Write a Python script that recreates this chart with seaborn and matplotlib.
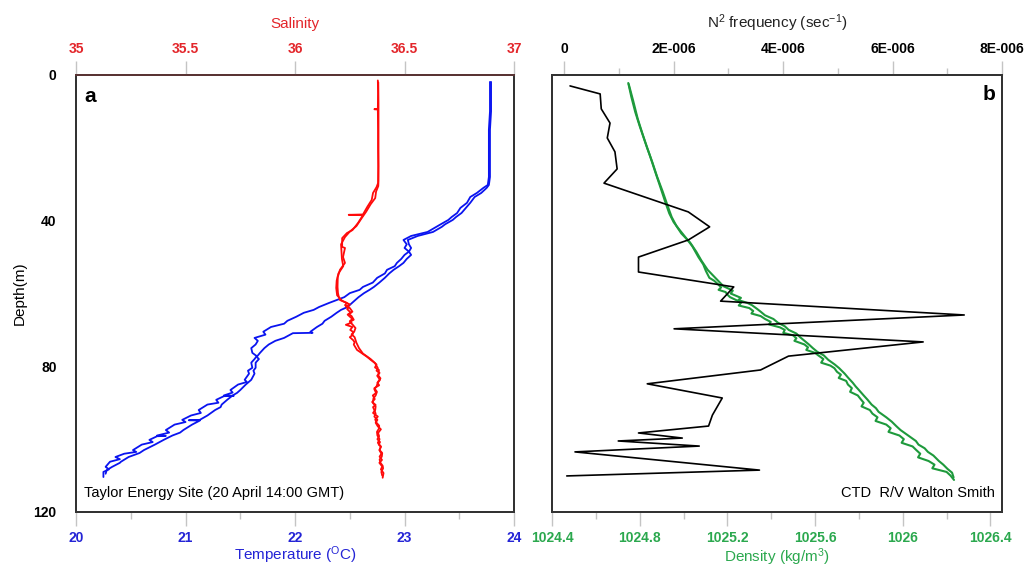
import matplotlib
matplotlib.use("Agg")
import matplotlib.pyplot as plt
import seaborn as sns
from matplotlib.ticker import MultipleLocator, FuncFormatter

# ---------------- data ----------------
# Temperature, cast 1
temp1_depth = [1.9, 5, 10, 15, 20, 25, 28, 30.2, 31.0, 32.4, 33.5, 35.1, 36.5, 37.9, 39.0, 39.8,
               41.0, 41.7, 43.1, 44.2, 45.3, 46.5, 47.5, 48.5, 49.4, 50.5, 51.6, 52.5, 53.5, 54.5,
               55.7, 57.0, 58.2, 59.0, 59.9, 61.0, 61.8, 62.6, 63.7, 64.5, 65.3, 66.4, 67.5, 68.3,
               69.2, 70.5, 71.3, 72.2, 73.0, 74.0, 75.0, 76.3, 77.2, 78.0, 79.0, 80.4, 81.2, 82.0,
               83.7, 84.3, 85.0, 86.5, 87.2, 88.0, 88.1, 88.2, 89.2, 90.0, 90.5, 92.0, 92.8, 93.5,
               94.7, 95.3, 96.0, 97.5, 98.2, 99.0, 99.1, 99.2, 100.2, 100.8, 101.5, 103.0, 103.5,
               104.0, 104.9, 105.5, 106.2, 107.6, 108.3, 109.0, 110.4]
temp1 = [23.78, 23.78, 23.78, 23.77, 23.77, 23.77, 23.77, 23.76, 23.72, 23.66, 23.60, 23.57, 23.51,
         23.48, 23.43, 23.40, 23.33, 23.29, 23.21, 23.06, 22.99, 23.02, 23.00, 23.04, 23.00, 22.97,
         22.93, 22.91, 22.84, 22.82, 22.75, 22.71, 22.62, 22.59, 22.50, 22.45, 22.38, 22.31, 22.22,
         22.17, 22.08, 22.01, 21.93, 21.90, 21.78, 21.71, 21.73, 21.63, 21.66, 21.64, 21.60, 21.61,
         21.65, 21.63, 21.60, 21.61, 21.57, 21.58, 21.54, 21.56, 21.48, 21.41, 21.43, 21.35, 21.44,
         21.35, 21.28, 21.30, 21.20, 21.12, 21.14, 21.05, 20.97, 21.00, 20.90, 20.82, 20.85, 20.74,
         20.82, 20.74, 20.67, 20.70, 20.60, 20.52, 20.55, 20.44, 20.36, 20.40, 20.31, 20.27, 20.30,
         20.25, 20.25]

# Temperature, cast 2
temp2_depth = [1.9, 5, 10, 15, 20, 25, 28, 30.2, 31.0, 32.4, 33.5, 35.1, 36.5, 37.9, 39.0, 39.8,
               41.0, 41.7, 43.1, 44.2, 45.3, 46.5, 47.5, 48.5, 49.4, 50.5, 51.6, 52.5, 53.5, 54.5,
               55.7, 57.0, 58.2, 59.0, 59.9, 61.0, 61.8, 62.6, 63.7, 64.5, 65.3, 66.4, 67.5, 68.3,
               69.2, 70.5, 70.8, 70.9, 72.2, 73.0, 74.0, 75.0, 76.3, 77.4, 78.0, 79.0, 80.4, 81.2,
               82.0, 83.7, 85.0, 86.5, 87.3, 88.0, 89.2, 90.5, 91.2, 92.0, 93.5, 94.7, 94.8, 94.9,
               96.0, 97.5, 98.2, 99.0, 100.2, 101.5, 103.0, 103.8, 104.9, 106.2, 106.5, 107.6,
               108.5, 109.5]
temp2 = [23.79, 23.79, 23.79, 23.78, 23.78, 23.78, 23.78, 23.77, 23.75, 23.70, 23.64, 23.60, 23.56,
         23.52, 23.47, 23.44, 23.37, 23.34, 23.26, 23.12, 23.03, 23.04, 23.06, 23.04, 23.06, 23.02,
         22.99, 22.95, 22.90, 22.86, 22.82, 22.77, 22.72, 22.68, 22.63, 22.58, 22.55, 22.52, 22.48,
         22.42, 22.38, 22.33, 22.27, 22.25, 22.20, 22.14, 22.16, 21.98, 21.90, 21.82, 21.76, 21.72,
         21.68, 21.65, 21.67, 21.64, 21.64, 21.62, 21.63, 21.60, 21.55, 21.50, 21.47, 21.43, 21.38,
         21.33, 21.32, 21.27, 21.20, 21.13, 21.03, 21.13, 21.06, 20.98, 20.95, 20.88, 20.80, 20.72,
         20.62, 20.58, 20.48, 20.41, 20.40, 20.33, 20.28, 20.27]

# Salinity, cast 1
sal1_depth = [1.5, 5, 9.3, 9.4, 9.5, 15, 20, 25, 29.7, 30.8, 32.4, 34.3, 36.2, 38.3, 38.4, 38.5,
              40.6, 42.6, 43.4, 44.8, 47.2, 47.5, 50.0, 51.6, 53.5, 55.5, 58.2, 59.9, 61.0, 61.8,
              62.6, 63.2, 63.7, 64.3, 65.3, 65.8, 66.4, 67.0, 67.6, 68.0, 68.6, 69.2, 70.0, 70.6,
              71.4, 72.0, 72.8, 73.4, 74.0, 75.5, 76.2, 77.4, 78.2, 79.1, 80.5, 81.2, 81.8, 82.6,
              83.7, 84.5, 85.5, 86.3, 87.3, 88.0, 89.0, 89.8, 90.6, 91.2, 92.0, 93.0, 93.8, 94.7,
              95.5, 96.5, 97.3, 98.3, 99.2, 100.0, 100.8, 101.5, 102.1, 103.0, 104.0, 104.8, 105.7,
              106.5, 107.5, 108.3, 109.3, 110.6]
sal1 = [36.378, 36.379, 36.378, 36.362, 36.378, 36.379, 36.379, 36.380, 36.379, 36.372, 36.356,
        36.350, 36.330, 36.310, 36.245, 36.310, 36.288, 36.262, 36.237, 36.215, 36.215, 36.228,
        36.219, 36.228, 36.205, 36.195, 36.194, 36.196, 36.200, 36.205, 36.237, 36.228, 36.245,
        36.238, 36.255, 36.240, 36.251, 36.262, 36.250, 36.258, 36.232, 36.262, 36.252, 36.266,
        36.262, 36.250, 36.265, 36.272, 36.268, 36.283, 36.300, 36.329, 36.345, 36.365, 36.378,
        36.372, 36.386, 36.375, 36.388, 36.378, 36.372, 36.362, 36.370, 36.355, 36.364, 36.352,
        36.368, 36.356, 36.362, 36.368, 36.362, 36.376, 36.368, 36.378, 36.392, 36.379, 36.384,
        36.376, 36.388, 36.382, 36.392, 36.385, 36.394, 36.386, 36.397, 36.385, 36.398, 36.392,
        36.404, 36.400]

# Salinity, cast 2
sal2_depth = [2.0, 8, 15, 22, 29.0, 30.5, 32.0, 33.8, 35.5, 37.5, 39.5, 41.5, 43.0, 44.5, 46.5,
              48.5, 50.5, 52.5, 54.5, 56.5, 58.5, 60.5, 62.0, 63.0, 63.6, 64.0, 65.0, 65.6, 66.2,
              67.2, 67.8, 68.5, 69.5, 70.5, 71.2, 72.0, 73.5, 75.0, 76.5, 78.0, 79.5, 80.3, 81.0,
              82.5, 83.3, 84.5, 85.2, 86.0, 87.0, 88.0, 88.8, 90.0, 91.0, 92.0, 92.8, 93.8, 94.6,
              95.5, 96.3, 97.0, 98.0, 99.0, 100.0, 101.0, 102.0, 103.0, 103.8, 104.8, 105.6, 106.5,
              107.3, 108.0, 109.0, 110.0]
sal2 = [36.380, 36.381, 36.381, 36.381, 36.381, 36.380, 36.370, 36.366, 36.345, 36.325, 36.302,
        36.280, 36.250, 36.228, 36.210, 36.212, 36.214, 36.220, 36.198, 36.190, 36.188, 36.192,
        36.215, 36.250, 36.232, 36.250, 36.262, 36.245, 36.258, 36.268, 36.250, 36.262, 36.276,
        36.270, 36.258, 36.272, 36.280, 36.292, 36.310, 36.345, 36.372, 36.365, 36.383, 36.380,
        36.390, 36.376, 36.384, 36.362, 36.374, 36.368, 36.358, 36.355, 36.368, 36.366, 36.356,
        36.378, 36.366, 36.372, 36.384, 36.384, 36.374, 36.376, 36.386, 36.378, 36.392, 36.386,
        36.398, 36.396, 36.386, 36.390, 36.400, 36.402, 36.394, 36.398]

# Density, cast 1
dens1_depth = [2.2, 6, 10.2, 14, 18.4, 22, 26.6, 30, 34.9, 38, 40.4, 42, 44.8, 47, 50, 52, 53.8,
               55.7, 56.5, 57.5, 58.3, 59.0, 59.6, 60.3, 61.0, 61.8, 62.6, 63.3, 64.0, 64.8, 65.5,
               66.2, 67.0, 67.8, 68.5, 69.3, 70.0, 70.8, 71.5, 72.3, 73.0, 74.0, 74.8, 75.5, 76.3,
               77.0, 78.0, 79.0, 79.8, 80.5, 81.5, 82.3, 83.2, 84.0, 85.0, 86.0, 87.0, 88.0, 89.0,
               90.0, 91.0, 92.0, 93.0, 94.0, 95.0, 96.0, 97.0, 98.0, 99.0, 100.0, 101.0, 102.0,
               103.0, 104.0, 105.0, 106.0, 107.0, 108.0, 109.0, 110.0, 111.2]
dens1 = [1024.748, 1024.762, 1024.780, 1024.800, 1024.825, 1024.846, 1024.871, 1024.890, 1024.917,
         1024.935, 1024.955, 1024.975, 1025.012, 1025.040, 1025.068, 1025.090, 1025.102, 1025.118,
         1025.140, 1025.158, 1025.172, 1025.160, 1025.192, 1025.200, 1025.212, 1025.240, 1025.262,
         1025.252, 1025.300, 1025.318, 1025.310, 1025.352, 1025.372, 1025.398, 1025.390, 1025.440,
         1025.462, 1025.455, 1025.500, 1025.515, 1025.506, 1025.552, 1025.568, 1025.560, 1025.600,
         1025.615, 1025.638, 1025.628, 1025.670, 1025.688, 1025.700, 1025.718, 1025.708, 1025.742,
         1025.750, 1025.768, 1025.760, 1025.795, 1025.808, 1025.822, 1025.812, 1025.850, 1025.862,
         1025.885, 1025.876, 1025.925, 1025.945, 1025.935, 1025.985, 1026.005, 1025.995, 1026.045,
         1026.062, 1026.080, 1026.070, 1026.118, 1026.145, 1026.135, 1026.200, 1026.218, 1026.234]

# Density, cast 2
dens2_depth = [2.5, 7, 12, 16, 20, 24, 28, 32, 36, 39, 41.5, 43.5, 46, 48.5, 51, 53.5, 56, 58,
               59.2, 60, 61.2, 61.8, 62.6, 63.2, 64.2, 65, 66, 67, 68, 69, 70, 71, 72, 73, 74, 75,
               76, 77, 78.2, 79.5, 80.5, 82, 83.2, 84.5, 85.5, 86.5, 88, 89.2, 90.5, 91.5, 92.5, 94,
               95.2, 96.5, 97.5, 99, 100.5, 101.5, 102.5, 103.5, 104.5, 106, 107, 108.2, 109.2,
               110.5]
dens2 = [1024.750, 1024.770, 1024.791, 1024.812, 1024.834, 1024.858, 1024.880, 1024.905, 1024.928,
         1024.946, 1024.968, 1024.990, 1025.030, 1025.058, 1025.082, 1025.110, 1025.150, 1025.182,
         1025.225, 1025.215, 1025.262, 1025.250, 1025.292, 1025.312, 1025.335, 1025.352, 1025.372,
         1025.410, 1025.430, 1025.462, 1025.480, 1025.515, 1025.532, 1025.552, 1025.572, 1025.590,
         1025.610, 1025.640, 1025.660, 1025.690, 1025.710, 1025.735, 1025.752, 1025.772, 1025.785,
         1025.800, 1025.822, 1025.840, 1025.858, 1025.878, 1025.890, 1025.925, 1025.950, 1025.972,
         1025.990, 1026.025, 1026.060, 1026.072, 1026.100, 1026.115, 1026.140, 1026.165, 1026.185,
         1026.205, 1026.225, 1026.232]

# N^2 frequency (sec^-1), in units of 1e-6
n2_depth = [3.0, 5.2, 9.3, 13.2, 17.3, 21.1, 25.8, 29.7, 37.6, 41.7, 45.3, 50.0, 54.1, 58.2, 62.1,
            65.9, 69.7, 73.3, 77.2, 81.0, 84.8, 88.7, 93.4, 96.4, 98.3, 99.7, 100.5, 101.9, 103.5,
            108.5, 110.1]
n2_e6 = [0.11, 0.66, 0.68, 0.84, 0.79, 0.93, 0.97, 0.73, 2.27, 2.66, 2.27, 1.36, 1.36, 3.10, 2.86,
         7.31, 2.01, 6.56, 4.10, 3.59, 1.52, 2.89, 2.71, 2.64, 1.36, 2.16, 0.99, 2.47, 0.20, 3.57,
         0.05]

depth_ticks = [0, 40, 80, 120]

# ---------------- style ----------------
sns.set_theme(style="white")
plt.rcParams['font.family'] = ['Liberation Sans', 'DejaVu Sans']

RED_LINE, RED_TXT = '#ff0a0a', '#e3262b'
BLUE_LINE, BLUE_TXT = '#0a14f0', '#2424d6'
GREEN_LINE, GREEN_TXT = '#1e9a3c', '#2ba84e'
TICK_GRAY = '#c4c4c4'
SPINE = '#333333'

fig = plt.figure(figsize=(10.36, 5.69), dpi=100)
axT = fig.add_axes([0.0734, 0.1002, 0.4228, 0.7680])
axS = axT.twiny()
axD = fig.add_axes([0.5328, 0.1002, 0.4344, 0.7680])
axN = axD.twiny()

lw = 1.3
sns.lineplot(x=temp1, y=temp1_depth, sort=False, estimator=None, ax=axT, color=BLUE_LINE, lw=lw)
sns.lineplot(x=temp2, y=temp2_depth, sort=False, estimator=None, ax=axT, color=BLUE_LINE, lw=lw)
sns.lineplot(x=sal1, y=sal1_depth, sort=False, estimator=None, ax=axS, color=RED_LINE, lw=lw)
sns.lineplot(x=sal2, y=sal2_depth, sort=False, estimator=None, ax=axS, color=RED_LINE, lw=lw)

sns.lineplot(x=dens1, y=dens1_depth, sort=False, estimator=None, ax=axD, color=GREEN_LINE, lw=1.5)
sns.lineplot(x=dens2, y=dens2_depth, sort=False, estimator=None, ax=axD, color=GREEN_LINE, lw=1.5)
sns.lineplot(x=[v * 1e-6 for v in n2_e6], y=n2_depth, sort=False, estimator=None, ax=axN,
             color='black', lw=1.2)

fmt_g = FuncFormatter(lambda v, p: f"{v:g}")


def n2_fmt(v, p):
    if abs(v) < 1e-12:
        return '0'
    return f"{v / 1e-6:.0f}E-006"


# --- panel a ---
axT.set_ylim(120, 0)
axT.set_xlim(20, 24)
axS.set_xlim(35, 37)
axT.set_yticks(depth_ticks)
axT.yaxis.set_minor_locator(MultipleLocator(20))
axT.xaxis.set_major_locator(MultipleLocator(1))
axT.xaxis.set_minor_locator(MultipleLocator(0.5))
axS.xaxis.set_major_locator(MultipleLocator(0.5))
axS.xaxis.set_major_formatter(fmt_g)
axT.xaxis.set_major_formatter(fmt_g)

# --- panel b ---
axD.set_ylim(120, 0)
axD.set_yticks([])
axD.set_xlim(1024.4, 1026.453)
axD.xaxis.set_major_locator(MultipleLocator(0.4))
axD.xaxis.set_minor_locator(MultipleLocator(0.2))
axD.xaxis.set_major_formatter(fmt_g)
axN.set_xlim(-0.22e-6, 8e-6)
axN.xaxis.set_major_locator(MultipleLocator(2e-6))
axN.xaxis.set_minor_locator(MultipleLocator(1e-6))
axN.xaxis.set_major_formatter(FuncFormatter(n2_fmt))

for ax in (axT, axS, axD, axN):
    for s in ax.spines.values():
        s.set_color(SPINE)
        s.set_linewidth(1.4)
axS.spines['top'].set_color('#5a3434')

tick_kw = dict(direction='out', color=TICK_GRAY, width=1.0, labelsize=10)
for ax in (axT, axS, axD, axN):
    ax.tick_params(axis='both', which='major', length=10, pad=4, **tick_kw)
    ax.tick_params(axis='both', which='minor', length=5, **tick_kw)

axT.tick_params(axis='x', labelcolor=BLUE_TXT)
axT.tick_params(axis='y', labelcolor='black')
axS.tick_params(axis='x', labelcolor=RED_TXT)
axD.tick_params(axis='x', labelcolor=GREEN_TXT)
axN.tick_params(axis='x', labelcolor='black')
axD.tick_params(axis='y', left=False, labelleft=False)
axN.tick_params(axis='y', left=False, right=False, labelleft=False, labelright=False)
axS.tick_params(axis='y', left=False, right=False, labelleft=False, labelright=False)

for ax in (axT, axS, axD, axN):
    for lab in ax.get_xticklabels() + ax.get_yticklabels():
        lab.set_fontweight('bold')

axS.set_xlabel('Salinity', color=RED_TXT, fontsize=11, labelpad=10)
axT.set_xlabel('Temperature ($\\mathregular{^{O}}$C)', color=BLUE_TXT, fontsize=11, labelpad=-1)
axT.set_ylabel('Depth(m)', color='black', fontsize=11, labelpad=5)
axN.set_xlabel('N$\\mathregular{^{2}}$ frequency (sec$\\mathregular{^{-1}}$)', color='#222222',
               fontsize=11, labelpad=10)
axD.set_xlabel('Density (kg/m$\\mathregular{^{3}}$)', color=GREEN_TXT, fontsize=11, labelpad=1)
axD.set_ylabel('')
axS.set_ylabel('')
axN.set_ylabel('')

axT.text(0.02, 0.95, 'a', transform=axT.transAxes, fontsize=15, fontweight='bold',
         ha='left', va='center', color='black')
axD.text(0.985, 0.955, 'b', transform=axD.transAxes, fontsize=15, fontweight='bold',
         ha='right', va='center', color='black')
axT.text(0.018, 0.043, 'Taylor Energy Site (20 April 14:00 GMT)', transform=axT.transAxes,
         fontsize=10.5, ha='left', va='center', color='black')
axD.text(0.985, 0.043, 'CTD  R/V Walton Smith', transform=axD.transAxes,
         fontsize=10.5, ha='right', va='center', color='black')

fig.savefig('out.png', dpi=100, facecolor='white')
